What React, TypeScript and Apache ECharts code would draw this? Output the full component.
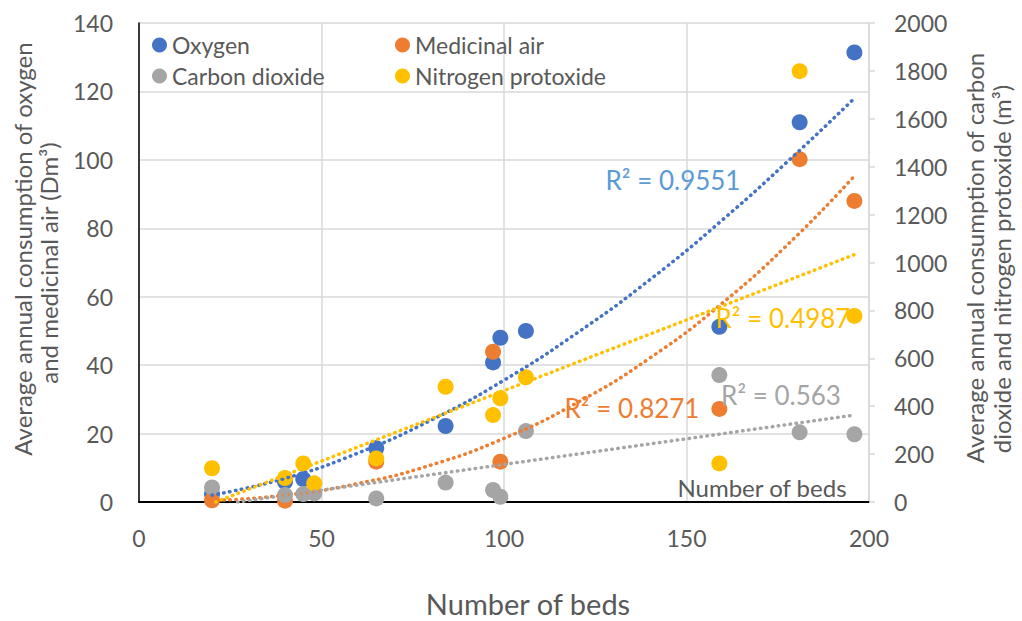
import React, { useEffect, useRef } from "react";
import * as echarts from "echarts";

// Number of beds per hospital, and annual consumption of each gas
const oxygenBeds = [20, 40, 45, 65, 84, 97, 99, 106, 159, 181, 196];
const oxygenDm3 = [2.3, 5.9, 6.7, 15.7, 22.2, 40.8, 48.0, 50.0, 51.2, 111.0, 131.4];

const airBeds = [20, 40, 65, 97, 99, 159, 181, 196];
const airDm3 = [0.5, 0.4, 11.8, 43.9, 11.8, 27.2, 100.2, 88.0];

const co2Beds = [20, 40, 45, 48, 65, 84, 97, 99, 106, 159, 181, 196];
const co2M3 = [61, 29, 33, 36, 15, 81, 50, 22, 296, 530, 291, 283];

const n2oBeds = [20, 40, 45, 48, 65, 84, 97, 99, 106, 159, 181, 196];
const n2oM3 = [141, 100, 161, 78, 182, 481, 363, 433, 521, 161, 1799, 777];

// Trendlines
const curveBeds = [20, 40, 60, 80, 100, 120, 140, 160, 180, 196];
const oxygenTrend = [2.0, 6.9, 14.3, 23.9, 35.6, 49.4, 65.0, 82.6, 101.8, 118.0];
const airTrend = [0.4, 2.0, 5.4, 10.8, 18.6, 29.0, 42.1, 58.3, 77.6, 95.3];
const n2oTrendBeds = [21, 60, 100, 150, 196];
const n2oTrend = [0, 230, 465, 760, 1033];
const co2TrendBeds = [27, 60, 100, 150, 196];
const co2Trend = [0, 71, 157, 264, 363];

const rSquared = {
  oxygen: "R² = 0.9551",
  air: "R² = 0.8271",
  n2o: "R² = 0.4987",
  co2: "R² = 0.563",
};

const xTicks = { min: 0, max: 200, interval: 50 };
const yLeftTicks = { min: 0, max: 140, interval: 20 };
const yRightTicks = { min: 0, max: 2000, interval: 200 };

const COLORS = {
  oxygen: "#4472C4",
  air: "#ED7D31",
  co2: "#A5A5A5",
  n2o: "#FFC000",
  oxygenLabel: "#5B9BD5",
};
const FONT = "Lato";
const TEXT = "#595959";
const GRID = "#D9D9D9";

const pairs = (xs: number[], ys: number[]) => xs.map((x, i) => [x, ys[i]]);

export default function App() {
  const ref = useRef<HTMLDivElement>(null);

  useEffect(() => {
    if (!ref.current) return;
    const chart = echarts.init(ref.current, undefined, { renderer: "svg" });

    const scatter = (name: string, color: string, data: number[][], yAxisIndex: number) => ({
      name,
      type: "scatter",
      yAxisIndex,
      data,
      symbol: "circle",
      symbolSize: 16,
      itemStyle: { color, opacity: 1 },
      z: 2,
    });

    const trend = (color: string, data: number[][], yAxisIndex: number, smooth: boolean) => ({
      type: "line",
      yAxisIndex,
      data,
      smooth,
      symbol: "none",
      silent: true,
      lineStyle: { color, width: 3.5, type: [0.5, 5.5], cap: "round" },
      z: 4,
    });

    const text = (content: string, x: number, y: number, color: string, fontSize: number) => ({
      type: "text",
      x,
      y,
      style: {
        text: content,
        fill: color,
        fontSize,
        lineHeight: fontSize,
        fontFamily: FONT,
        align: "center",
        verticalAlign: "middle",
      },
      z: 10,
    });

    const vText = (content: string, x: number, y: number) => ({
      type: "text",
      x,
      y,
      rotation: Math.PI / 2,
      style: {
        text: content,
        fill: TEXT,
        fontSize: 24,
        fontFamily: FONT,
        align: "center",
        verticalAlign: "middle",
      },
    });

    const legendText = { color: TEXT, fontSize: 23, fontFamily: FONT, lineHeight: 24 };
    const legendBase = {
      orient: "vertical",
      top: 28,
      itemWidth: 15,
      itemHeight: 15,
      itemGap: 7,
      itemTextGap: 5,
      icon: "circle",
      textStyle: legendText,
      selectedMode: false,
    };

    chart.setOption({
      animation: false,
      backgroundColor: "#ffffff",
      textStyle: { fontFamily: FONT },
      grid: { left: 139, top: 23, width: 730, height: 479, containLabel: false },
      legend: [
        { ...legendBase, data: ["Oxygen", "Carbon dioxide"], left: 147 },
        { ...legendBase, data: ["Medicinal air", "Nitrogen protoxide"], left: 390 },
      ],
      xAxis: {
        type: "value",
        ...xTicks,
        axisLine: { show: true, onZero: false, lineStyle: { color: "#000", width: 2 } },
        axisTick: { show: false },
        axisLabel: { color: TEXT, fontSize: 23, fontFamily: FONT, margin: 24 },
        splitLine: { show: true, lineStyle: { color: GRID, width: 1.5 } },
      },
      yAxis: [
        {
          type: "value",
          position: "left",
          ...yLeftTicks,
          axisLine: { show: true, onZero: false, lineStyle: { color: "#000", width: 1.5 } },
          axisTick: { show: false },
          axisLabel: { color: TEXT, fontSize: 23, fontFamily: FONT, margin: 26 },
          splitLine: { show: true, lineStyle: { color: GRID, width: 1.5 } },
        },
        {
          type: "value",
          position: "right",
          ...yRightTicks,
          axisLine: { show: true, onZero: false, lineStyle: { color: GRID, width: 1.5 } },
          axisTick: { show: true, inside: false, length: 6, lineStyle: { color: GRID, width: 1.5 } },
          axisLabel: {
            color: TEXT,
            fontSize: 23,
            fontFamily: FONT,
            margin: 25,
            formatter: (v: number) => String(v),
          },
          splitLine: { show: false },
        },
      ],
      series: [
        scatter("Oxygen", COLORS.oxygen, pairs(oxygenBeds, oxygenDm3), 0),
        scatter("Medicinal air", COLORS.air, pairs(airBeds, airDm3), 0),
        scatter("Carbon dioxide", COLORS.co2, pairs(co2Beds, co2M3), 1),
        scatter("Nitrogen protoxide", COLORS.n2o, pairs(n2oBeds, n2oM3), 1),
        trend(COLORS.oxygen, pairs(curveBeds, oxygenTrend), 0, true),
        trend(COLORS.air, pairs(curveBeds, airTrend), 0, true),
        trend(COLORS.co2, pairs(co2TrendBeds, co2Trend), 1, false),
        trend(COLORS.n2o, pairs(n2oTrendBeds, n2oTrend), 1, false),
      ],
      graphic: [
        text(rSquared.oxygen, 673, 180, COLORS.oxygenLabel, 26),
        text(rSquared.air, 632, 408, COLORS.air, 26),
        text(rSquared.n2o, 783, 318, COLORS.n2o, 26),
        text(rSquared.co2, 781, 395, COLORS.co2, 26),
        text("Number of beds", 762, 487, TEXT, 24),
        text("Number of beds", 528, 603, TEXT, 29),
        vText("Average annual consumption of oxygen", 22, 249),
        vText("and medicinal air (Dm³)", 48, 263),
        vText("Average annual consumption of carbon", 974, 258),
        vText("dioxide and nitrogen protoxide (m³)", 1001, 269),
      ],
    });

    return () => chart.dispose();
  }, []);

  return (
    <div
      ref={ref}
      style={{ position: "fixed", left: 0, top: 0, width: 1022, height: 621, background: "#fff" }}
    />
  );
}
